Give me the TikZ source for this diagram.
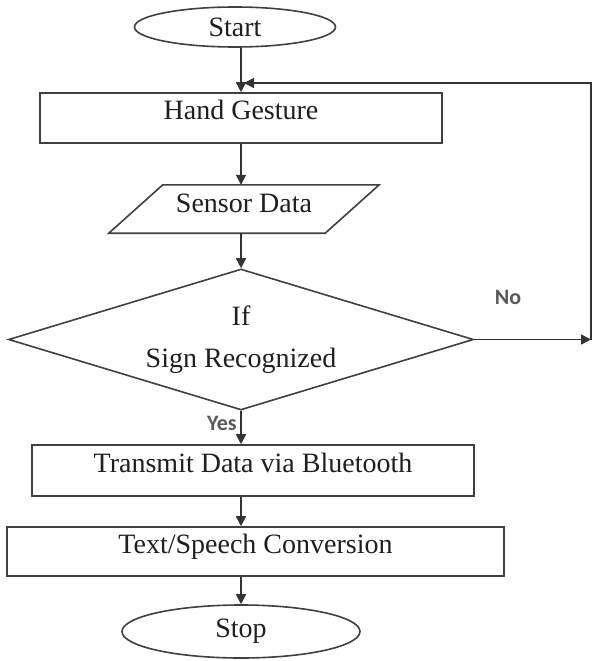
\documentclass[tikz,border=0pt]{standalone}
\usepackage{fontspec}
\setmainfont{Liberation Serif}
\newfontfamily\lblfont{Carlito}
\usetikzlibrary{shapes.geometric,arrows.meta}
\begin{document}
\begin{tikzpicture}[x=1pt,y=-1pt,
  every node/.style={font=\fontsize{28}{32}\selectfont, text=black!88},
  outline/.style={draw=black!75, line width=1.6pt},
  box/.style={outline, rectangle, inner sep=0pt, text height=19pt, text depth=16pt},
  term/.style={outline, ellipse, inner sep=0pt},
  decision/.style={outline, diamond, shape aspect=3.3, inner sep=0pt, align=center},
  arr/.style={draw=black!80, line width=1.6pt, -{Triangle[length=10pt,width=10pt]}},
  lbl/.style={font=\lblfont\bfseries\fontsize{22}{26}\selectfont, text=black!65},
]
\useasboundingbox (0,0) rectangle (593,661);
\fill[white] (0,0) rectangle (593,661);

\node[term, minimum width=201pt, minimum height=40pt] (start) at (235,27) {Start};
\node[box, minimum width=402pt, minimum height=50pt] (hand) at (241,118) {Hand Gesture};
\node[inner sep=0pt, minimum width=216pt, minimum height=48pt, text height=19pt, text depth=12pt] (sensor) at (244,209) {Sensor Data};
\draw[outline] ([xshift=27pt]sensor.north west) -- ([xshift=27pt]sensor.north east)
  -- ([xshift=-27pt]sensor.south east) -- ([xshift=-27pt]sensor.south west) -- cycle;
\node[decision, minimum width=465pt, minimum height=141pt] (dec) at (241,339.5) {If\\[10pt]Sign Recognized};
\node[box, minimum width=442pt, minimum height=51pt] (tx) at (253,470.5) {Transmit Data via Bluetooth};
\node[box, minimum width=497pt, minimum height=49pt] (conv) at (255.5,551.5) {Text/Speech Conversion};
\node[term, minimum width=238pt, minimum height=53pt] (stop) at (241,631.5) {Stop};

\coordinate (spine) at (241,0);
\draw[arr] (start.south -| spine) -- (hand.north -| spine);
\draw[arr] (hand.south -| spine) -- (sensor.north -| spine);
\draw[arr] (sensor.south -| spine) -- (dec.north);
\draw[arr] (dec.south) -- (tx.north -| dec.south);
\draw[arr] (tx.south -| spine) -- (conv.north -| spine);
\draw[arr] (conv.south -| spine) -- (stop.north);

\coordinate (nocorner) at (591,339.5);
\coordinate (topcorner) at (591,83);
\coordinate (join) at (244,83);
\draw[arr] (dec.east) -- (nocorner);
\draw[arr] (nocorner) -- (topcorner) -- (join);

\node[lbl] (no) at (508,297) {No};
\node[lbl] (yes) at (222,423) {Yes};
\end{tikzpicture}
\end{document}
